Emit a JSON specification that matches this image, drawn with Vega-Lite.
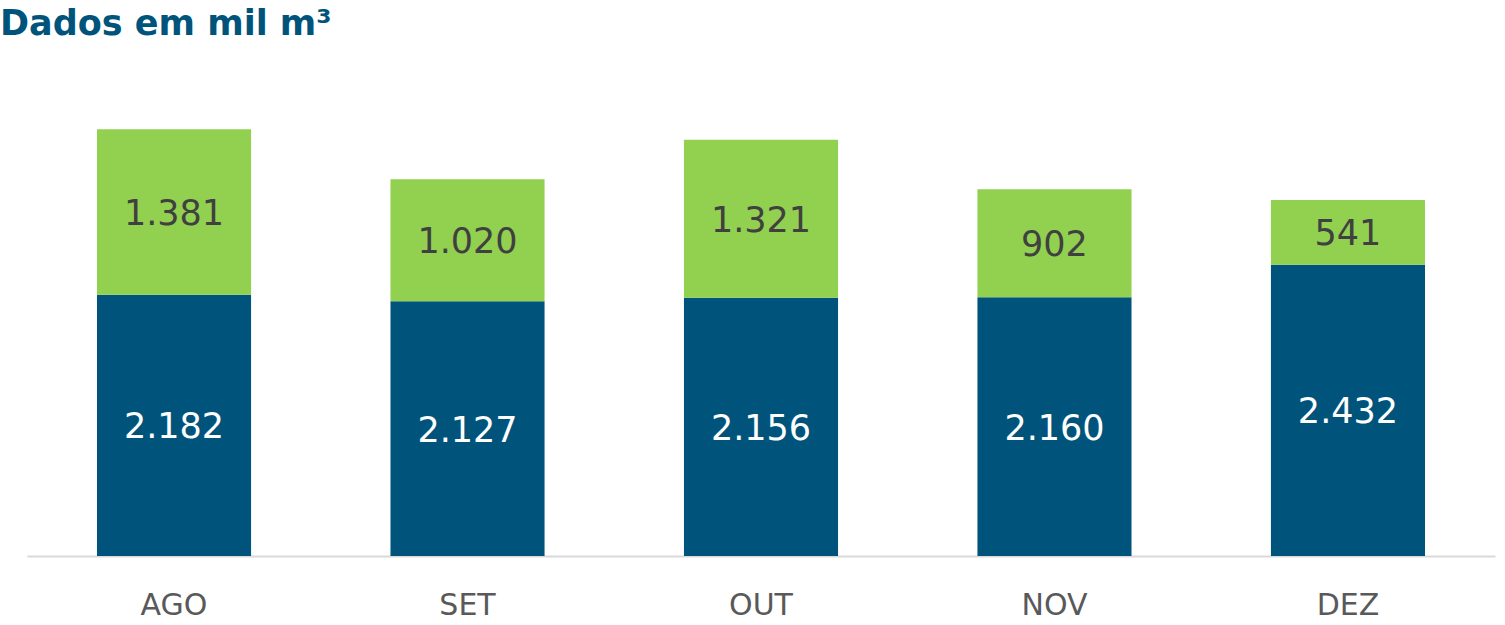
{
  "$schema": "https://vega.github.io/schema/vega-lite/v6.json",
  "width": 1468,
  "height": 479,
  "autosize": {"type": "none"},
  "padding": {"left": 27, "top": 77, "right": 10, "bottom": 69},
  "background": "white",
  "title": {
    "text": "Dados em mil m³",
    "anchor": "start",
    "frame": "bounds",
    "dx": -27,
    "offset": 7,
    "baseline": "alphabetic",
    "font": "DejaVu Sans",
    "fontSize": 35,
    "fontWeight": "bold",
    "color": "#00547C"
  },
  "data": {
    "values": [
      {"mes": "AGO", "tipo": "A", "ordem": 1, "valor": 2182, "rotulo": "2.182"},
      {"mes": "AGO", "tipo": "B", "ordem": 2, "valor": 1381, "rotulo": "1.381"},
      {"mes": "SET", "tipo": "A", "ordem": 1, "valor": 2127, "rotulo": "2.127"},
      {"mes": "SET", "tipo": "B", "ordem": 2, "valor": 1020, "rotulo": "1.020"},
      {"mes": "OUT", "tipo": "A", "ordem": 1, "valor": 2156, "rotulo": "2.156"},
      {"mes": "OUT", "tipo": "B", "ordem": 2, "valor": 1321, "rotulo": "1.321"},
      {"mes": "NOV", "tipo": "A", "ordem": 1, "valor": 2160, "rotulo": "2.160"},
      {"mes": "NOV", "tipo": "B", "ordem": 2, "valor": 902, "rotulo": "902"},
      {"mes": "DEZ", "tipo": "A", "ordem": 1, "valor": 2432, "rotulo": "2.432"},
      {"mes": "DEZ", "tipo": "B", "ordem": 2, "valor": 541, "rotulo": "541"}
    ]
  },
  "transform": [
    {"stack": "valor", "groupby": ["mes"], "sort": [{"field": "ordem", "order": "ascending"}], "as": ["v0", "v1"]}
  ],
  "encoding": {
    "x": {
      "field": "mes",
      "type": "nominal",
      "sort": ["AGO", "SET", "OUT", "NOV", "DEZ"],
      "scale": {"paddingInner": 0.475, "paddingOuter": 0.2385},
      "axis": {
        "title": null,
        "labelAngle": 0,
        "ticks": false,
        "domainColor": "#D9D9D9",
        "domainWidth": 2,
        "labelFont": "DejaVu Sans",
        "labelFontSize": 30,
        "labelColor": "#595959",
        "labelPadding": 34
      }
    }
  },
  "layer": [
    {
      "mark": {"type": "bar"},
      "encoding": {
        "y": {"field": "v0", "type": "quantitative", "scale": {"domain": [0, 4000]}, "axis": null},
        "y2": {"field": "v1"},
        "color": {
          "field": "tipo",
          "type": "nominal",
          "scale": {"domain": ["A", "B"], "range": ["#00547C", "#92D050"]},
          "legend": null
        }
      }
    },
    {
      "transform": [
        {"fold": ["v0", "v1"], "as": ["extremo", "pos"]},
        {"aggregate": [{"op": "mean", "field": "pos", "as": "meio"}], "groupby": ["mes", "tipo", "rotulo"]}
      ],
      "mark": {"type": "text", "font": "DejaVu Sans", "fontSize": 35, "baseline": "middle", "dy": 2},
      "encoding": {
        "y": {"field": "meio", "type": "quantitative", "scale": {"domain": [0, 4000]}},
        "text": {"field": "rotulo"},
        "color": {
          "field": "tipo",
          "type": "nominal",
          "scale": {"domain": ["A", "B"], "range": ["#FFFFFF", "#404040"]},
          "legend": null
        }
      }
    }
  ],
  "resolve": {"scale": {"color": "independent"}},
  "config": {"view": {"stroke": null}}
}
